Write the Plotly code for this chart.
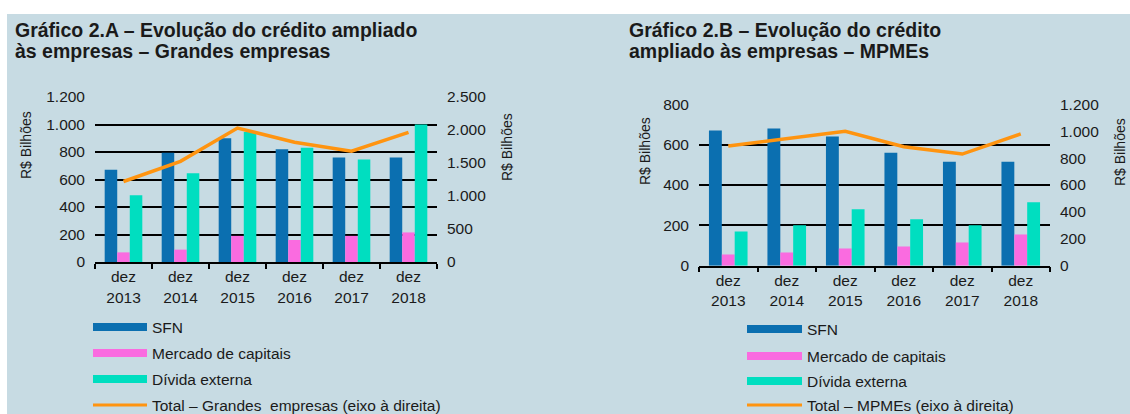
import plotly.graph_objects as go

W, H = 1130, 414

# ---------------- data ----------------
categories = ["dez<br>2013", "dez<br>2014", "dez<br>2015", "dez<br>2016", "dez<br>2017", "dez<br>2018"]

# Gráfico 2.A – Grandes empresas (R$ bilhões)
ge_sfn = [670, 795, 900, 820, 760, 760]
ge_mercado = [70, 90, 190, 160, 190, 215]
ge_divida = [485, 645, 945, 830, 745, 1000]
ge_total = [1220, 1525, 2030, 1815, 1680, 1965]

# Gráfico 2.B – MPMEs (R$ bilhões)
mp_sfn = [670, 680, 640, 560, 515, 515]
mp_mercado = [55, 65, 85, 95, 115, 155]
mp_divida = [170, 200, 280, 230, 200, 315]
mp_total = [890, 945, 1000, 885, 830, 980]

series_names = ["SFN", "Mercado de capitais", "Dívida externa"]
total_names = ["Total – Grandes  empresas (eixo à direita)", "Total – MPMEs (eixo à direita)"]
title_a = ["Gráfico 2.A – Evolução do crédito ampliado", "às empresas – Grandes empresas"]
title_b = ["Gráfico 2.B – Evolução do crédito", "ampliado às empresas – MPMEs"]
axis_title = "R$ Bilhões"

# ---------------- style ----------------
BG = "#C7DBE3"
C_SFN = "#0B6FB0"
C_MC = "#FA6BE0"
C_DE = "#00DEC0"
C_TOT = "#FF9410"
TXT = "#1a1a1a"
FONT = "Liberation Sans, Arial, sans-serif"
bar_colors = [C_SFN, C_MC, C_DE]


def fx(px):
    return px / W


def fy(py):
    return 1 - py / H


fig = go.Figure()

for vals, col, name in zip([ge_sfn, ge_mercado, ge_divida], bar_colors, series_names):
    fig.add_trace(go.Bar(x=categories, y=vals, marker=dict(color=col, line=dict(width=0)),
                         name=name, xaxis="x", yaxis="y", showlegend=False))
fig.add_trace(go.Scatter(x=categories, y=ge_total, mode="lines", line=dict(color=C_TOT, width=3.5),
                         name=total_names[0], xaxis="x", yaxis="y2", showlegend=False))

for vals, col, name in zip([mp_sfn, mp_mercado, mp_divida], bar_colors, series_names):
    fig.add_trace(go.Bar(x=categories, y=vals, marker=dict(color=col, line=dict(width=0)),
                         name=name, xaxis="x2", yaxis="y3", showlegend=False))
fig.add_trace(go.Scatter(x=categories, y=mp_total, mode="lines", line=dict(color=C_TOT, width=3.5),
                         name=total_names[1], xaxis="x2", yaxis="y4", showlegend=False))

tickfont = dict(family=FONT, size=15.5, color=TXT)

xcommon = dict(type="category", showline=True, linecolor="black", linewidth=1.5,
               ticks="outside", tickson="boundaries", ticklen=5, tickwidth=1.5, tickcolor="black",
               tickfont=tickfont, showgrid=False, zeroline=False, fixedrange=True, automargin=False)
yleft = dict(showline=False, ticks="", showgrid=True, gridcolor="black", gridwidth=1.5,
             zeroline=False, tickfont=tickfont, tickformat=",d", ticklabelstandoff=9,
             automargin=False)
yright = dict(showline=False, ticks="", showgrid=False, zeroline=False, tickfont=tickfont,
              tickformat=",d", side="right", ticklabelstandoff=9, automargin=False)

A_x = [fx(95), fx(437)]
A_y = [fy(262), fy(97)]
B_x = [fx(699), fx(1050)]
B_y = [fy(265.7), fy(104.3)]

fig.update_layout(
    template="none",
    width=W, height=H, autosize=False,
    margin=dict(l=0, r=0, t=0, b=0, pad=0, autoexpand=False),
    paper_bgcolor=BG, plot_bgcolor="rgba(0,0,0,0)",
    separators=",.",
    barmode="group", bargap=0.34, bargroupgap=0,
    showlegend=False,
    font=dict(family=FONT, color=TXT),
    xaxis=dict(domain=A_x, anchor="y", **xcommon),
    yaxis=dict(domain=A_y, anchor="x", range=[0, 1200], dtick=200, **yleft),
    yaxis2=dict(overlaying="y", anchor="x", range=[0, 2500], dtick=500, **yright),
    xaxis2=dict(domain=B_x, anchor="y3", **xcommon),
    yaxis3=dict(domain=B_y, anchor="x2", range=[0, 800], dtick=200, **yleft),
    yaxis4=dict(overlaying="y3", anchor="x2", range=[0, 1200], dtick=200, **yright),
)

shapes = [
    dict(type="rect", xref="paper", yref="paper", x0=0, x1=1, y0=fy(14), y1=1,
         fillcolor="white", line=dict(width=0), layer="below"),
    dict(type="rect", xref="paper", yref="paper", x0=0, x1=fx(7), y0=0, y1=1,
         fillcolor="white", line=dict(width=0), layer="below"),
]
annotations = []

# titles
for (x0, lines) in [(13, title_a), (627, title_b)]:
    for i, (t, yc) in enumerate(zip(lines, [30, 51])):
        annotations.append(dict(text="<b>" + t + "</b>", x=fx(x0), y=fy(yc), xref="paper", yref="paper",
                                xanchor="left", yanchor="middle", showarrow=False,
                                font=dict(family=FONT, size=19.5, color=TXT)))

# axis titles
for (x, y) in [(26, 145), (507, 147), (645, 151), (1120, 152)]:
    annotations.append(dict(text=axis_title, x=fx(x), y=fy(y), xref="paper", yref="paper",
                            xanchor="center", yanchor="middle", textangle=-90, showarrow=False,
                            font=dict(family=FONT, size=14, color=TXT)))

# legends
legend_specs = [
    (93, 147, [327, 353, 379, 405], total_names[0]),
    (747, 802, [329, 356, 381, 405], total_names[1]),
]
for (sx0, sx1, ys, tname) in legend_specs:
    for i in range(3):
        shapes.append(dict(type="rect", xref="paper", yref="paper", x0=fx(sx0), x1=fx(sx1),
                           y0=fy(ys[i] + 4), y1=fy(ys[i] - 4), fillcolor=bar_colors[i],
                           line=dict(width=0)))
        annotations.append(dict(text=series_names[i], x=fx(sx1 + 3), y=fy(ys[i]), xref="paper",
                                yref="paper", xanchor="left", yanchor="middle", showarrow=False,
                                font=dict(family=FONT, size=15.5, color=TXT)))
    shapes.append(dict(type="line", xref="paper", yref="paper", x0=fx(sx0), x1=fx(sx1),
                       y0=fy(ys[3]), y1=fy(ys[3]), line=dict(color=C_TOT, width=3)))
    annotations.append(dict(text=tname, x=fx(sx1 + 3), y=fy(ys[3]), xref="paper",
                            yref="paper", xanchor="left", yanchor="middle", showarrow=False,
                            font=dict(family=FONT, size=15.5, color=TXT)))

fig.update_layout(shapes=shapes, annotations=annotations)

fig.write_html("out.html", config={"displayModeBar": False})
